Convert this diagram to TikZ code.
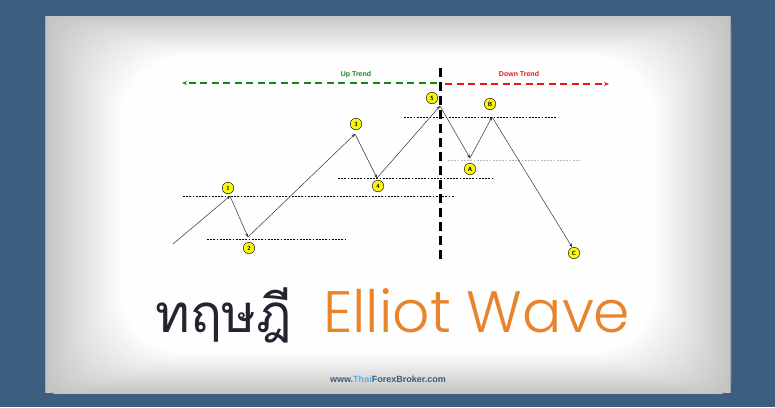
\documentclass[tikz,border=0pt]{standalone}
\usepackage{fontspec}
\setmainfont{Liberation Sans}
\newfontfamily\thaifont[Script=Thai]{Loma}
\IfFontExistsTF{Poppins Light}{\newfontfamily\engfont{Poppins Light}}{\newfontfamily\engfont{Poppins}}
\usetikzlibrary{arrows.meta}
\definecolor{bgblue}{RGB}{61,94,126}
\definecolor{edgegray}{RGB}{160,166,174}
\definecolor{edgelight}{RGB}{150,170,190}
\definecolor{wyellow}{RGB}{248,246,10}
\definecolor{upgreen}{RGB}{20,135,20}
\definecolor{downred}{RGB}{235,20,20}
\definecolor{titledark}{RGB}{34,37,46}
\definecolor{titleorange}{RGB}{232,132,44}
\definecolor{footblue}{RGB}{60,92,124}
\definecolor{footlight}{RGB}{90,180,225}
\definecolor{dotgray}{RGB}{185,185,185}
\definecolor{vgcorner}{RGB}{194,194,194}
\tikzset{
  wavept/.style={circle, draw=black, line width=0.4pt, fill=wyellow, minimum size=11.5pt, inner sep=0pt, font=\sffamily\bfseries\fontsize{6}{6}\selectfont},
  waveline/.style={draw=black!80, line width=0.5pt, -{Stealth[length=3.5pt,width=3pt]}},
  level/.style={draw=black, line width=0.7pt, dash pattern=on 1.8pt off 1.4pt},
  levelgray/.style={draw=dotgray, line width=0.7pt, dash pattern=on 1.8pt off 1.4pt},
  uparrow/.style={draw=upgreen, line width=1.2pt, dash pattern=on 7pt off 4.5pt, -{Stealth[length=5pt,width=4pt]}},
  downarrow/.style={draw=downred, line width=1.6pt, dash pattern=on 7pt off 4.5pt, -{Stealth[length=5pt,width=4pt,open]}},
  divider/.style={draw=black, line width=2.8pt, dash pattern=on 9pt off 5pt},
  trendlabel/.style={font=\bfseries\fontsize{7}{8}\selectfont, inner sep=0pt}
}
\begin{document}
\begin{tikzpicture}[x=1pt,y=-1pt]
\useasboundingbox (0,0) rectangle (775,407);
\fill[bgblue] (0,0) rectangle (775,407);
% panel with vignette
\begin{scope}
\clip (45,16) rectangle (731,393);
\fill[vgcorner] (45,16) rectangle (731,393);
\foreach \s in {0.02,0.04,...,1.001} {
  \pgfmathtruncatemacro\g{min(255,194+61*\s)}
  \pgfmathsetmacro\ix{80*\s-4}
  \pgfmathsetmacro\iy{44*\s-4}
  \pgfmathsetmacro\rr{20+50*\s}
  \definecolor{vgcur}{RGB}{\g,\g,\g}
  \fill[vgcur, rounded corners=\rr pt] (45+\ix,16+\iy) rectangle (731-\ix,393-\iy);
}
\end{scope}
\draw[edgelight, line width=0.8pt] (45.4,16) -- (45.4,393);
\draw[edgegray, line width=1.2pt] (730.4,16) -- (730.4,393);

% horizontal levels
\coordinate (l1a) at (183,196); \coordinate (l1b) at (455,196);
\coordinate (l2a) at (207,239); \coordinate (l2b) at (346,239);
\coordinate (l4a) at (338,178); \coordinate (l4b) at (493,178);
\coordinate (l5a) at (404,117); \coordinate (l5b) at (556,117);
\coordinate (lAa) at (448,160); \coordinate (lAb) at (580,160);
\draw[level] (l1a) -- (l1b);
\draw[level] (l2a) -- (l2b);
\draw[level] (l4a) -- (l4b);
\draw[level] (l5a) -- (l5b);
\draw[levelgray] (lAa) -- (lAb);

% wave vertices
\coordinate (p0) at (173,244);
\coordinate (p1) at (230,196);
\coordinate (p2) at (248,237);
\coordinate (p3) at (355,134);
\coordinate (p4) at (377,178);
\coordinate (p5) at (440,106);
\coordinate (pA) at (470,158);
\coordinate (pB) at (492,117);
\coordinate (pC) at (572,247);
\draw[waveline] (p0) -- (p1);
\draw[waveline] (p1) -- (p2);
\draw[waveline] (p2) -- (p3);
\draw[waveline] (p3) -- (p4);
\draw[waveline] (p4) -- (p5);
\draw[waveline] (p5) -- (pA);
\draw[waveline] (pA) -- (pB);
\draw[waveline] (pB) -- (pC);

% divider
\coordinate (dtop) at (440.5,68);
\coordinate (dbot) at (440.5,263);
\draw[divider] (dtop) -- (dbot);

% trend arrows
\coordinate (gs) at (437,83);
\coordinate (ge) at (182,83);
\coordinate (rs) at (445,84);
\coordinate (re) at (609,84);
\draw[uparrow] (gs) -- (ge);
\draw[downarrow] (rs) -- (re);
\node[trendlabel, text=upgreen] (up) at (356,75) {Up Trend};
\node[trendlabel, text=downred] (down) at (519,74) {Down Trend};

% wave labels
\node[wavept] (c1) at (228,188) {1};
\node[wavept] (c2) at (249,248) {2};
\node[wavept] (c3) at (356,124) {3};
\node[wavept] (c4) at (378,186) {4};
\node[wavept] (c5) at (432,98) {5};
\node[wavept] (cA) at (470,169) {A};
\node[wavept] (cB) at (490,104) {B};
\node[wavept] (cC) at (574,253) {C};

% title
\node[anchor=base west, inner sep=0pt, text=titledark] (thai) at (155,332) {\resizebox{137pt}{!}{\thaifont ทฤษฎี}};
\node[anchor=base west, inner sep=0pt, text=titleorange] (eng) at (323,332) {\resizebox{307pt}{!}{\engfont Elliot Wave}};

% footer
\node[inner sep=0pt, text=footblue] (foot) at (388,379) {\resizebox{116pt}{!}{\bfseries www.\textcolor{footlight}{Thai}ForexBroker.com}};
\end{tikzpicture}
\end{document}
